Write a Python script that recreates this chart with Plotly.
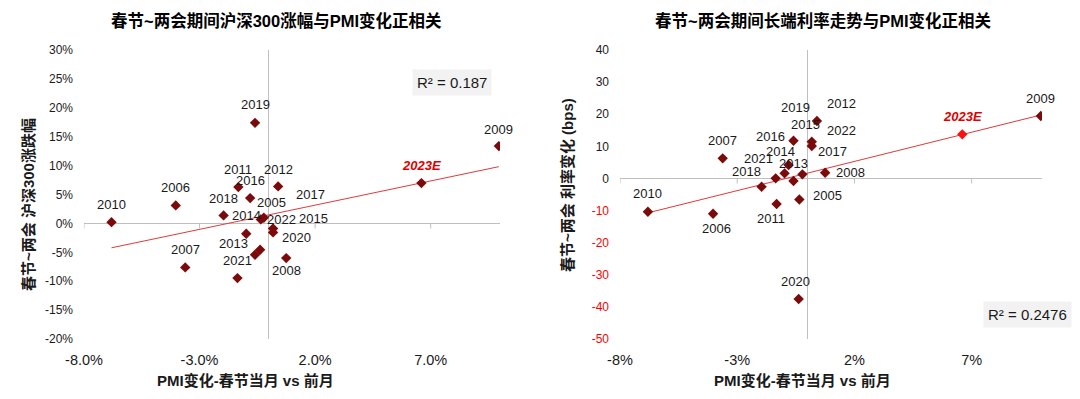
import numpy as np
import plotly.graph_objects as go

# ---------------- data ----------------
years = ["2005", "2006", "2007", "2008", "2009", "2010", "2011", "2012", "2013",
         "2014", "2015", "2016", "2017", "2018", "2019", "2020", "2021", "2022", "2023E"]
pmi_change_pct = [-0.35, -4.03, -3.62, 0.75, 9.95, -6.81, -1.32, 0.40, -0.60,
                  -0.98, 0.18, -0.81, -0.22, -1.96, -0.60, -0.38, -1.36, 0.18, 6.60]
csi300_change_pct = [0.69, 3.11, -7.61, -6.00, 13.37, 0.22, 6.28, 6.40, -5.42,
                     -1.79, -1.56, 4.38, 0.99, 1.38, 17.40, -4.55, -9.46, -0.87, 6.97]
yield_change_bps = [-6.57, -10.99, 6.26, 1.78, 19.43, -10.37, -7.97, 17.90, -0.81,
                    1.59, 11.43, 4.20, 1.28, -2.58, 11.74, -37.56, 0.03, 10.09, 13.73]

left_title = "春节~两会期间沪深300涨幅与PMI变化正相关"
right_title = "春节~两会期间长端利率走势与PMI变化正相关"
left_ytitle = "春节~两会 沪深300涨跌幅"
right_ytitle = "春节~两会 利率变化 (bps)"
xtitle = "PMI变化-春节当月 vs 前月"
left_r2 = "R² = 0.187"
right_r2 = "R² = 0.2476"

left_xticks = [-8, -3, 2, 7]
left_yticks = [-20, -15, -10, -5, 0, 5, 10, 15, 20, 25, 30]
right_xticks = [-8, -3, 2, 7]
right_yticks = [-50, -40, -30, -20, -10, 0, 10, 20, 30, 40]

# label offsets (pixels: dx right, dy down) - style only
left_label_offsets = [(11, -17), (0, -18), (0, -18), (0, 12), (0, -17), (0, -18), (0, -18),
                      (0, -17), (-22, -11), (0, -18), (40, -14), (0, -18), (47, -23),
                      (0, -17), (0, -18), (36, -12), (0, -18), (8, -9), (0, -18)]
right_label_offsets = [(28, -4), (3, 15), (0, -18), (25, 0), (0, -18), (0, -18), (-6, 14),
                       (25, -17), (0, -18), (-4, -22), (-6, -17), (-18, -28), (30, -23),
                       (-15, -15), (2, -33), (-3, -18), (-17, -20), (30, -16), (0, -18)]

FONT = "Liberation Sans, Arial, Noto Sans CJK SC, sans-serif"
DARK_RED = "#7b0a0a"
AXIS_GRAY = "#bfbfbf"
TEXT = "#1a1a1a"

W, H = 1080, 399
PAGE_OFFSET = 8  # default page body margin
def px(x):
    return (x - PAGE_OFFSET) / W
def py(y):
    return 1 - (y - PAGE_OFFSET) / H

fig = go.Figure()

hist = [i for i, y in enumerate(years) if not y.endswith("E")]

def add_panel(xs, ys, xa, ya, est_color, offsets):
    xh = np.array([xs[i] for i in hist])
    yh = np.array([ys[i] for i in hist])
    slope, intercept = np.polyfit(xh, yh, 1)
    xl = np.array([min(xs), max(xs)])
    fig.add_trace(go.Scatter(x=xl, y=slope * xl + intercept, mode="lines",
                             line=dict(color="#e03a3a", width=1),
                             xaxis=xa, yaxis=ya, showlegend=False, hoverinfo="skip"))
    colors = [est_color if y.endswith("E") else DARK_RED for y in years]
    fig.add_trace(go.Scatter(x=xs, y=ys, mode="markers",
                             marker=dict(symbol="diamond", size=8, color=colors),
                             xaxis=xa, yaxis=ya, showlegend=False, text=years))
    for yr, xv, yv, (dx, dy) in zip(years, xs, ys, offsets):
        est = yr.endswith("E")
        fig.add_annotation(x=xv, y=yv, xref=xa, yref=ya, text=(f"<b><i>{yr}</i></b>" if est else yr),
                           showarrow=False, xshift=dx, yshift=-dy, xanchor="center", yanchor="middle",
                           font=dict(family=FONT, size=13, color=("#e00000" if est else TEXT)))

add_panel(pmi_change_pct, csi300_change_pct, "x", "y", DARK_RED, left_label_offsets)
add_panel(pmi_change_pct, yield_change_bps, "x2", "y2", "#ff1010", right_label_offsets)

ydom = [py(339), py(50)]
common_x = dict(showgrid=False, zeroline=True, zerolinecolor=AXIS_GRAY, zerolinewidth=1,
                showline=False, ticks="", tickfont=dict(family=FONT, size=14.5, color=TEXT),
                ticklabelstandoff=10, range=[-8, 10], fixedrange=True, automargin=False)
common_y = dict(showgrid=False, zeroline=True, zerolinecolor=AXIS_GRAY, zerolinewidth=1,
                showline=False, ticks="", tickfont=dict(family=FONT, size=12, color=TEXT),
                ticklabelstandoff=10, fixedrange=True, automargin=False)

fig.update_layout(
    width=W, height=H, margin=dict(l=0, r=0, t=0, b=0, autoexpand=False),
    paper_bgcolor="white", plot_bgcolor="white",
    xaxis=dict(domain=[px(84), px(500)], anchor="y",
               tickvals=left_xticks, ticktext=[f"{v:.1f}%" for v in left_xticks], **common_x),
    yaxis=dict(domain=ydom, anchor="x", range=[-20, 30],
               tickvals=left_yticks, ticktext=[f"{v}%" for v in left_yticks], **common_y),
    xaxis2=dict(domain=[px(620), px(1042)], anchor="y2",
                tickvals=right_xticks, ticktext=[f"{v}%" for v in right_xticks], **common_x),
    yaxis2=dict(domain=ydom, anchor="x2", range=[-50, 40],
                tickvals=right_yticks,
                ticktext=[(f'<span style="color:#ff0000">{v}</span>' if v < 0 else str(v)) for v in right_yticks],
                **common_y),
    font=dict(family=FONT, color=TEXT),
)

# small tick marks on horizontal zero lines
for xa, ya, ticks in (("x", "y", left_xticks), ("x2", "y2", right_xticks)):
    for t in ticks:
        fig.add_shape(type="line", xref=xa, yref=ya, x0=t, x1=t, ysizemode="pixel",
                      yanchor=0, y0=0, y1=-5, line=dict(color=AXIS_GRAY, width=1))

def paper_text(x, y, text, size, angle=0, color=TEXT, **kw):
    fig.add_annotation(x=px(x), y=py(y), xref="paper", yref="paper", text=text,
                       showarrow=False, xanchor="center", yanchor="middle", textangle=angle,
                       font=dict(family=FONT, size=size, color=color), **kw)

# titles
paper_text(276, 20, f"<b>{left_title}</b>", 16.5, color="#000000")
paper_text(822.5, 20, f"<b>{right_title}</b>", 16.5, color="#000000")
paper_text(29, 205, f"<b>{left_ytitle}</b>", 15, angle=-90)
paper_text(568, 185, f"<b>{right_ytitle}</b>", 15, angle=-90)
paper_text(245.5, 380, f"<b>{xtitle}</b>", 15)
paper_text(802, 380, f"<b>{xtitle}</b>", 15)
# R² boxes
paper_text(452, 82, left_r2, 15, bgcolor="#f2f2f2", borderpad=4)
paper_text(1027.5, 314, right_r2, 15, bgcolor="#f2f2f2", borderpad=4)

fig.write_html("out.html")
